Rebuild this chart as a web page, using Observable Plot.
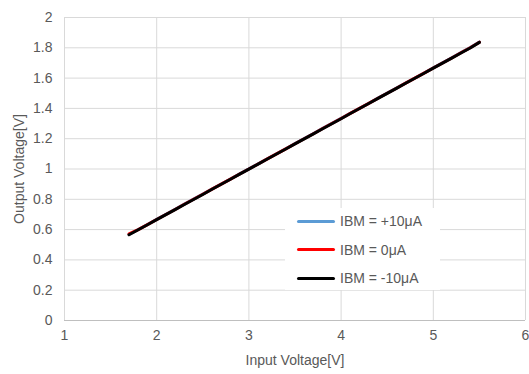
<!DOCTYPE html>
<html>
<head>
<meta charset="utf-8">
<script src="https://cdn.jsdelivr.net/npm/d3@7"></script>
<script src="https://cdn.jsdelivr.net/npm/@observablehq/plot@0.6"></script>
<style>
  html, body { margin: 0; padding: 0; background: #fff; }
  #wrap { position: relative; width: 529px; height: 374px; font-family: "Liberation Sans", Arial, sans-serif; }
  #legend { position: absolute; left: 285px; top: 208px; width: 155px; height: 82px; background: #fff; }
  .item { position: absolute; left: 12px; height: 16px; display: flex; align-items: center; font-size: 14px; color: #595959; }
  .sw { width: 38px; height: 3px; border-radius: 2px; margin-right: 5px; }
</style>
</head>
<body>
<div id="wrap"></div>
<script>
const inputV = [1.7,1.8,1.9,2.0,2.1,2.2,2.3,2.4,2.5,2.6,2.7,2.8,2.9,3.0,3.1,3.2,3.3,3.4,3.5,3.6,3.7,3.8,3.9,4.0,4.1,4.2,4.3,4.4,4.5,4.6,4.7,4.8,4.9,5.0,5.1,5.2,5.3,5.4,5.5];
const outPlus10 = [0.568,0.601,0.634,0.668,0.701,0.734,0.768,0.801,0.834,0.868,0.901,0.934,0.968,1.001,1.034,1.068,1.101,1.134,1.168,1.201,1.234,1.268,1.301,1.334,1.368,1.401,1.434,1.468,1.501,1.534,1.568,1.601,1.634,1.668,1.701,1.734,1.768,1.801,1.838];
const outZero   = [0.572,0.600,0.633,0.667,0.700,0.733,0.767,0.800,0.833,0.867,0.900,0.933,0.967,1.000,1.033,1.067,1.100,1.133,1.167,1.200,1.233,1.267,1.300,1.333,1.367,1.400,1.433,1.467,1.500,1.533,1.567,1.600,1.633,1.667,1.700,1.733,1.767,1.800,1.837];
const outMinus10 = [0.566,0.599,0.632,0.666,0.699,0.732,0.766,0.799,0.832,0.866,0.899,0.932,0.966,0.999,1.032,1.066,1.099,1.132,1.166,1.199,1.232,1.266,1.299,1.332,1.366,1.399,1.432,1.466,1.499,1.532,1.566,1.599,1.632,1.666,1.699,1.732,1.766,1.799,1.836];
const seriesNames = ["IBM = +10μA", "IBM = 0μA", "IBM = -10μA"];
const seriesColors = ["#5b9bd5", "#ff0000", "#000000"];
const xTicks = [1,2,3,4,5,6];
const yTicks = [0,0.2,0.4,0.6,0.8,1,1.2,1.4,1.6,1.8,2];

const seriesValues = [outPlus10, outZero, outMinus10];
const data = [];
seriesNames.forEach((name, i) => {
  inputV.forEach((x, j) => data.push({series: name, x, y: seriesValues[i][j]}));
});

const chart = Plot.plot({
  width: 529,
  height: 374,
  marginLeft: 64,
  marginRight: 4,
  marginTop: 17,
  marginBottom: 54,
  style: { fontFamily: "Liberation Sans, Arial, sans-serif", fontSize: "14px", color: "#595959", background: "#fff", overflow: "visible" },
  x: { domain: [1, 6] },
  y: { domain: [0, 2] },
  color: { domain: seriesNames, range: seriesColors },
  marks: [
    Plot.ruleY(yTicks, { stroke: "#d9d9d9", strokeWidth: 1, strokeOpacity: 1 }),
    Plot.ruleX(xTicks, { stroke: "#d9d9d9", strokeWidth: 1, strokeOpacity: 1 }),
    Plot.ruleY([0], { stroke: "#bfbfbf", strokeWidth: 1 }),
    Plot.axisX({ ticks: xTicks, tickFormat: d => String(d), tickSize: 0, tickPadding: 10, fontSize: 14, label: "Input Voltage[V]", labelAnchor: "center", labelArrow: "none", labelOffset: 44 }),
    Plot.axisY({ ticks: yTicks, tickFormat: d => String(d), tickSize: 0, tickPadding: 12, fontSize: 14, label: "Output Voltage[V]", labelAnchor: "center", labelArrow: "none", labelOffset: 50 }),
    Plot.line(data, { x: "x", y: "y", z: "series", stroke: "series", strokeWidth: 3, strokeLinecap: "round", strokeLinejoin: "round" })
  ]
});

const wrap = document.getElementById("wrap");
wrap.appendChild(chart);
const legend = document.createElement("div");
legend.id = "legend";
seriesNames.forEach((name, i) => {
  const it = document.createElement("div");
  it.className = "item";
  it.style.top = (5 + i * 28.5) + "px";
  const sw = document.createElement("div");
  sw.className = "sw";
  sw.style.background = seriesColors[i];
  const tx = document.createElement("span");
  tx.textContent = name;
  it.appendChild(sw);
  it.appendChild(tx);
  legend.appendChild(it);
});
wrap.appendChild(legend);
</script>
</body>
</html>
